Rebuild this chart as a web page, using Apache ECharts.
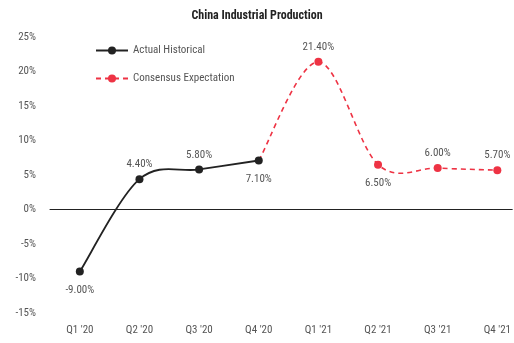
<!DOCTYPE html>
<html>
<head>
<meta charset="utf-8">
<script src="https://cdn.jsdelivr.net/npm/echarts@6/dist/echarts.min.js"></script>
<style>
  html, body { margin: 0; padding: 0; background: #fff; }
  #chart { width: 514px; height: 343px; }
</style>
</head>
<body>
<div id="chart"></div>
<script>
// Quarterly year-over-year growth, in percent
const quarters = ["Q1 '20", "Q2 '20", "Q3 '20", "Q4 '20", "Q1 '21", "Q2 '21", "Q3 '21", "Q4 '21"];
const actualHistorical = [-9.0, 4.4, 5.8, 7.1, null, null, null, null];
const consensusExpectation = [null, null, null, 7.1, 21.4, 6.5, 6.0, 5.7];
// Which side of the marker each value label sits on
const actualLabelSide = ['bottom', 'top', 'top', 'bottom'];
const consensusLabelSide = [null, null, null, null, 'top', 'bottom', 'top', 'top'];
const yTicks = { min: -15, max: 25, step: 5 };

const FONT = "'Liberation Sans Narrow', 'Roboto Condensed', 'DejaVu Sans Condensed', sans-serif";
const BLACK = '#222222';
const RED = '#ee3344';
const GREY = '#555555';

const pct = v => v.toFixed(2) + '%';

function labelFor(side) {
  return {
    show: true,
    position: side,
    distance: side === 'bottom' ? 9 : 5,
    formatter: p => pct(p.value[1]),
    color: GREY,
    fontFamily: FONT,
    fontSize: 11
  };
}

// quarters are placed by their index on a numeric x axis, so the
// zero line can run on to the right edge past the last quarter
const actualData = actualHistorical.map((v, i) =>
  v === null ? [i, null] : { value: [i, v], label: labelFor(actualLabelSide[i]) });

const consensusData = consensusExpectation.map((v, i) => {
  if (v === null) return [i, null];
  // the hand-off quarter is already marked and labelled by the actual series
  if (consensusLabelSide[i] === null) return { value: [i, v], symbol: 'none', label: { show: false } };
  return { value: [i, v], label: labelFor(consensusLabelSide[i]) };
});

const present = values => values.map((v, i) => [i, v]).filter(d => d[1] !== null);

// Catmull-Rom style curve (control points at +/- one sixth of the
// neighbour chord), which lets the line swing a little past its points.
function curveRenderer(values, lineStyle) {
  const pts = present(values);
  return function (params, api) {
    if (params.dataIndex !== 0) return null;
    const c = pts.map(p => api.coord(p));
    let d = 'M' + c[0][0] + ' ' + c[0][1];
    for (let k = 0; k < c.length - 1; k++) {
      const p0 = c[k - 1] || c[k], p1 = c[k], p2 = c[k + 1], p3 = c[k + 2] || c[k + 1];
      const c1x = p1[0] + (p2[0] - p0[0]) / 6, c1y = p1[1] + (p2[1] - p0[1]) / 6;
      const c2x = p2[0] - (p3[0] - p1[0]) / 6, c2y = p2[1] - (p3[1] - p1[1]) / 6;
      d += ' C' + c1x + ' ' + c1y + ' ' + c2x + ' ' + c2y + ' ' + p2[0] + ' ' + p2[1];
    }
    return {
      type: 'path',
      shape: { pathData: d },
      style: Object.assign({ fill: null }, lineStyle)
    };
  };
}

const chart = echarts.init(document.getElementById('chart'), null, { renderer: 'canvas' });
chart.setOption({
  animation: false,
  backgroundColor: '#ffffff',
  title: {
    text: 'China Industrial Production',
    left: 'center',
    top: 5,
    textStyle: { fontFamily: FONT, fontSize: 12, fontWeight: 'bold', color: '#222' }
  },
  legend: {
    orient: 'vertical',
    left: 90,
    top: 40,
    itemWidth: 32,
    itemHeight: 10,
    itemGap: 17,
    textStyle: { fontFamily: FONT, fontSize: 11, color: GREY },
    data: [
      { name: 'Actual Historical', lineStyle: { opacity: 1 } },
      { name: 'Consensus Expectation', lineStyle: { opacity: 1 } }
    ]
  },
  grid: { left: 50, right: 0, top: 37, bottom: 30 },
  xAxis: {
    type: 'value',
    min: -0.5,
    max: quarters.length - 0.75,
    axisLine: { onZero: true, lineStyle: { color: BLACK, width: 1 } },
    axisTick: { show: false },
    splitLine: { show: false },
    axisLabel: {
      customValues: quarters.map((q, i) => i),
      formatter: v => quarters[Math.round(v)],
      margin: 12,
      color: GREY,
      fontFamily: FONT,
      fontSize: 11
    }
  },
  yAxis: {
    type: 'value',
    min: yTicks.min,
    max: yTicks.max,
    interval: yTicks.step,
    axisLine: { show: false },
    axisTick: { show: false },
    splitLine: { show: false },
    axisLabel: {
      margin: 14,
      color: GREY,
      fontFamily: FONT,
      fontSize: 11,
      formatter: v => v + '%'
    }
  },
  series: [
    // markers, value labels and legend entries; the curves are drawn below
    {
      name: 'Consensus Expectation',
      type: 'line',
      data: consensusData,
      symbol: 'circle',
      symbolSize: 8,
      z: 4,
      itemStyle: { color: RED },
      lineStyle: { color: RED, width: 1.6, type: [5, 4], opacity: 0 }
    },
    {
      name: 'Actual Historical',
      type: 'line',
      data: actualData,
      symbol: 'circle',
      symbolSize: 8,
      z: 5,
      itemStyle: { color: BLACK },
      lineStyle: { color: BLACK, width: 1.8, opacity: 0 }
    },
    {
      name: 'Consensus Expectation',
      type: 'custom',
      data: present(consensusExpectation),
      encode: { x: 0, y: 1 },
      z: 2,
      silent: true,
      renderItem: curveRenderer(consensusExpectation, { stroke: RED, lineWidth: 1.6, lineDash: [5, 4] })
    },
    {
      name: 'Actual Historical',
      type: 'custom',
      data: present(actualHistorical),
      encode: { x: 0, y: 1 },
      z: 3,
      silent: true,
      renderItem: curveRenderer(actualHistorical, { stroke: BLACK, lineWidth: 1.8 })
    }
  ]
});
</script>
</body>
</html>
